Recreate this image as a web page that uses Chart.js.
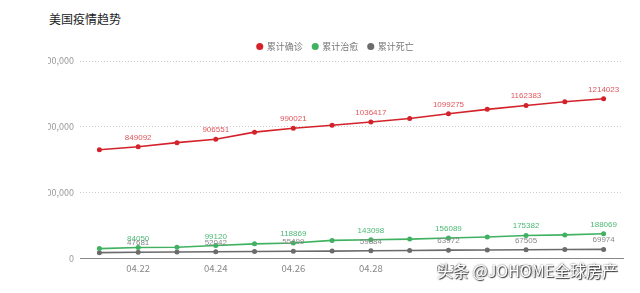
<!DOCTYPE html>
<html>
<head>
<meta charset="utf-8">
<script src="https://cdn.jsdelivr.net/npm/chart.js@4"></script>
<style>
body{margin:0;background:#fff;width:640px;height:293px;overflow:hidden;position:relative;font-family:'Noto Sans CJK SC',sans-serif}
#title{position:absolute;left:49px;top:10px;font-size:12px;color:#222}
#wrap{position:absolute;left:0;top:0;width:640px;height:293px;clip-path:inset(0 0 0 48px)}
#mark{position:absolute;left:437px;top:258px;font-size:16px;color:#fff;text-shadow:0 0 2px #555,1px 1px 1px #333;white-space:nowrap}
</style>
</head>
<body>
<div id="title">美国疫情趋势</div>
<div id="wrap"><canvas id="c" width="640" height="293"></canvas></div>
<div id="mark">头条 @JOHOME全球房产</div>
<script>
const dates=['04.21','04.22','04.23','04.24','04.25','04.26','04.27','04.28','04.29','04.30','05.01','05.02','05.03','05.04'];
const confirmed=[826000,849092,880204,906551,960000,990021,1012000,1036417,1064000,1099275,1133000,1162383,1191000,1214023];
const cured=[76000,84050,86000,99120,112000,118869,138000,143098,148000,156089,164000,175382,180000,188069];
const deaths=[45000,47681,49800,52042,54000,55499,56800,59884,61600,63972,65700,67505,68600,69974];
const yTicks=[0,500000,1000000,1500000];

Chart.defaults.font.family="'Noto Sans CJK SC',sans-serif";
Chart.defaults.animation=false;

// value labels on every second point
const valueLabels={id:'valueLabels',afterDatasetsDraw(chart){
 const ctx=chart.ctx;
 ctx.save();
 ctx.font="8px 'Liberation Sans',sans-serif";
 ctx.textAlign='center'; ctx.textBaseline='alphabetic';
 chart.data.datasets.forEach((ds,k)=>{
  chart.getDatasetMeta(k).data.forEach((p,i)=>{
   if(i%2!==1) return;
   ctx.fillStyle=ds.labelColor;
   ctx.fillText(String(ds.data[i]),p.x,p.y-7);
  });
 });
 ctx.restore();
}};

const mk=(label,data,color,labelColor)=>({label,data,borderColor:color,backgroundColor:color,
 labelColor,borderWidth:1.6,pointRadius:2.5,pointBorderWidth:0,tension:0});

new Chart(c,{type:'line',
 data:{labels:dates,datasets:[
  mk('累计确诊',confirmed,'#d4222b','#e0575c'),
  mk('累计治愈',cured,'#3fb160','#4cb874'),
  mk('累计死亡',deaths,'#6b6b6b','#888')]},
 options:{responsive:false,
  layout:{padding:{left:48,right:17,top:32,bottom:15}},
  plugins:{legend:{position:'top',labels:{usePointStyle:true,pointStyle:'circle',boxWidth:5,boxHeight:5,
    color:'#777',font:{size:9},padding:10}},tooltip:{enabled:false}},
  scales:{
   x:{offset:true,grid:{display:false,drawTicks:false},border:{color:'#888'},
    ticks:{autoSkip:false,maxRotation:0,color:'#888',font:{size:9.5},padding:4,
     callback:(v,i)=>i%2===1?dates[i]:''}},
   y:{min:0,max:1500000,afterFit:s=>{s.width=32},
    afterBuildTicks:s=>{s.ticks=yTicks.map(v=>({value:v}))},
    grid:{color:'#ccc',drawTicks:false},border:{display:false,dash:[1,2]},
    ticks:{color:'#999',font:{size:9},padding:6,callback:v=>v.toLocaleString('en-US')}}
  }},
 plugins:[valueLabels]});
</script>
</body>
</html>
